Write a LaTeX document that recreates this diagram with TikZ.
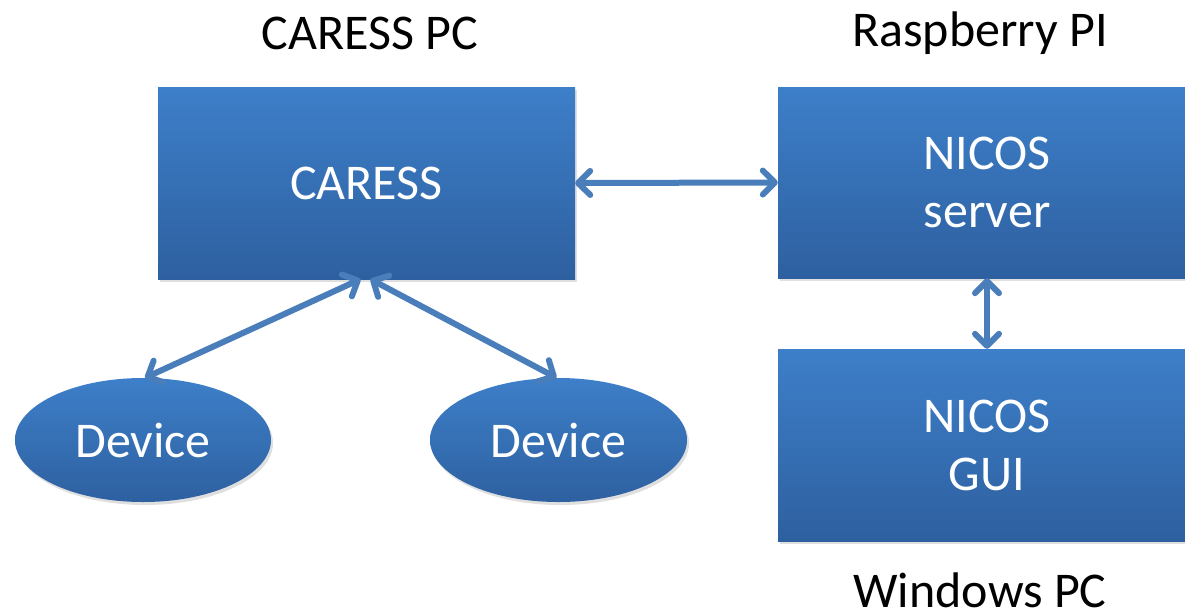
\documentclass[tikz,border=0pt]{standalone}
\usepackage{fontspec}
\setmainfont{Carlito}
\usetikzlibrary{arrows.meta,shadows,shapes.geometric}
\definecolor{boxtop}{RGB}{61,127,201}
\definecolor{boxbot}{RGB}{46,96,160}
\definecolor{arrowc}{RGB}{74,126,187}
\begin{document}
\begin{tikzpicture}[x=1pt,y=-1pt,
  blockbox/.style={rectangle, top color=boxtop, bottom color=boxbot, draw=none,
    text=white, align=center, font=\fontsize{50}{58}\selectfont,
    drop shadow={opacity=0.25, shadow xshift=2pt, shadow yshift=-3pt}},
  devbox/.style={ellipse, top color=boxtop, bottom color=boxbot, draw=none,
    text=white, font=\fontsize{50}{58}\selectfont, inner sep=0pt,
    drop shadow={opacity=0.25, shadow xshift=2pt, shadow yshift=-3pt}},
  titletext/.style={text=black, font=\fontsize{50}{58}\selectfont},
  biarrow/.style={draw=arrowc, line width=6pt, line cap=round,
    {Straight Barb[length=12pt,width=24pt,line cap=round,line join=round]}-{Straight Barb[length=12pt,width=24pt,line cap=round,line join=round]}}
]
\useasboundingbox (0,0) rectangle (1185,611);
\fill[white] (0,0) rectangle (1185,611);

\node[blockbox, minimum width=417pt, minimum height=192pt] (caress) at (366.5,183) {CARESS};
\node[blockbox, minimum width=418pt, minimum height=191pt] (server) at (987,182.5) {NICOS\\server};
\node[blockbox, minimum width=418pt, minimum height=192pt] (gui) at (987,445) {NICOS\\GUI};

\node[devbox, minimum width=256pt, minimum height=124pt] (dev1) at (143,440) {Device};
\node[devbox, minimum width=257pt, minimum height=124pt] (dev2) at (558.5,440) {Device};

\node[titletext] (t1) at (370,33) {CARESS PC};
\node[titletext] (t2) at (980,33) {Raspberry PI};
\node[titletext] (t3) at (980,590) {Windows PC};

\draw[biarrow] (caress.east) -- (server.west);
\draw[biarrow] (server.south) -- (gui.north);
\draw[biarrow] ([xshift=-6pt]caress.south) -- ([xshift=2pt]dev1.north);
\draw[biarrow] ([xshift=4pt]caress.south) -- ([xshift=-2pt]dev2.north);
\end{tikzpicture}
\end{document}
